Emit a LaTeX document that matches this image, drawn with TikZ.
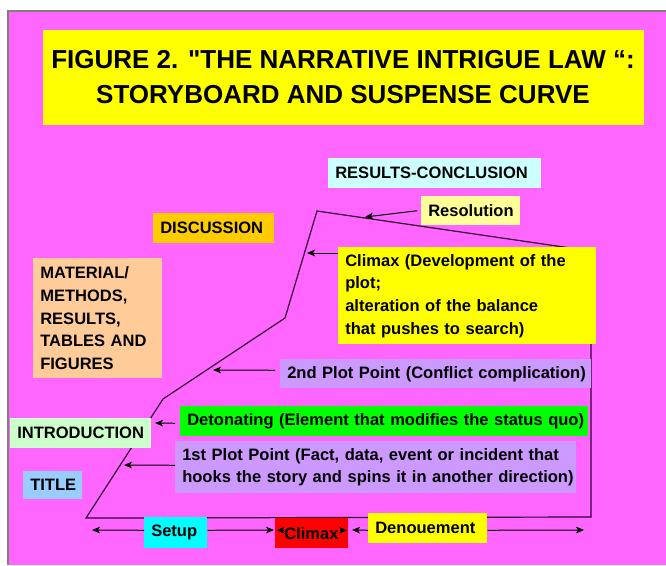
\documentclass[tikz,border=0pt]{standalone}
\usepackage{fontspec}
\setmainfont{Liberation Sans}
\newfontfamily\titlefont{Liberation Sans}
\usetikzlibrary{arrows.meta}
\definecolor{bgmag}{HTML}{FF66FF}
\definecolor{titley}{HTML}{FFFF00}
\definecolor{rescol}{HTML}{CCFFFF}
\definecolor{resolcol}{HTML}{FFFF99}
\definecolor{lavcol}{HTML}{CC99FF}
\definecolor{disccol}{HTML}{FFCC00}
\definecolor{matcol}{HTML}{FFCC99}
\definecolor{introcol}{HTML}{CCFFCC}
\definecolor{titlecol}{HTML}{99CCFF}
\definecolor{detcol}{HTML}{00FF00}
\definecolor{setupcol}{HTML}{00FFFF}
\definecolor{redcol}{HTML}{FF0000}
\definecolor{curvecol}{HTML}{330033}
\definecolor{frcol}{HTML}{808080}
\begin{document}
\begin{tikzpicture}[x=0.75pt,y=-0.75pt,
  lbl/.style={font=\fontsize{12.4}{17}\selectfont\bfseries, anchor=north west,
    inner xsep=5.25pt, inner ysep=1pt, align=left},
  curve/.style={draw=curvecol, line width=0.9pt, line join=miter},
  arr/.style={draw=black, line width=0.75pt, -{Stealth[length=6pt,width=5pt,inset=1.5pt]}},
]
\useasboundingbox (0,0) rectangle (666,565);
\fill[white] (0,0) rectangle (666,565);
\fill[bgmag] (8,11) rectangle (666,565);
\draw[frcol, line width=0.8pt] (8,565) -- (8,11) -- (666,11);

% title
\node[fill=titley, minimum width=450.75pt, minimum height=71.25pt, inner sep=0pt,
  align=center, font=\titlefont\fontsize{19.5}{26.25}\selectfont\bfseries] (title) at (343,77.5)
  {FIGURE 2. "THE NARRATIVE INTRIGUE LAW “:\\STORYBOARD AND SUSPENSE CURVE};

% suspense curve
\draw[curve] (86,518) -- (163,399) -- (285,318) -- (317,211) -- (591,251) -- (591,517) -- cycle;

% labels
\node[lbl, fill=rescol, text width=149.25pt, minimum height=22.5pt] (rc) at (328,158) {\mbox{RESULTS-CONCLUSION}};
\node[lbl, fill=resolcol, text width=63.75pt, minimum height=21.75pt] (res) at (421,196) {\mbox{Resolution}};
\node[lbl, fill=titley, text width=183pt, minimum height=72.75pt] (clx) at (338,247)
  {\mbox{Climax (Development of the}\\plot;\\\mbox{alteration of the balance}\\\mbox{that pushes to search)}};
\node[lbl, fill=lavcol, text width=222.75pt, minimum height=21.75pt] (pp2) at (280,359) {\mbox{2nd Plot Point (Conflict complication)}};
\node[lbl, fill=disccol, text width=80.25pt, minimum height=22.5pt] (disc) at (153,213) {\mbox{DISCUSSION}};
\node[lbl, fill=matcol, text width=86.25pt, minimum height=90pt] (mat) at (33,258)
  {MATERIAL/\\METHODS,\\RESULTS,\\\mbox{TABLES AND}\\FIGURES};
\node[lbl, fill=introcol, text width=95.25pt, minimum height=22.5pt] (intro) at (10,418) {\mbox{INTRODUCTION}};
\node[lbl, fill=titlecol, text width=33.75pt, minimum height=21pt] (ttl) at (23,471) {\mbox{TITLE}};
\node[lbl, fill=detcol, text width=295.5pt, minimum height=22.5pt] (det) at (180,406) {\mbox{Detonating (Element that modifies the status quo)}};
\node[lbl, fill=lavcol, text width=290.25pt, minimum height=39pt] (pp1) at (175,441)
  {\mbox{1st Plot Point (Fact, data, event or incident that}\\\mbox{hooks the story and spins it in another direction)}};
\node[lbl, fill=setupcol, text width=36.75pt, minimum height=23.25pt] (setup) at (144,517) {\mbox{Setup}};
\node[lbl, fill=redcol, text width=44.25pt, minimum height=22.5pt, inner xsep=5.25pt] (cr) at (275,518) {\hspace*{1.5pt}\mbox{Climax}};
\node[lbl, fill=titley, text width=78.75pt, minimum height=22.5pt] (den) at (368,513) {\mbox{Denouement}};

% arrow targets
\coordinate (tRes) at (365,217);
\coordinate (tClx) at (307,253);
\coordinate (tPP2) at (213,370);
\coordinate (tDet) at (155,423);
\coordinate (tPP1) at (124,465);
\coordinate (tSetL) at (92,530);
\coordinate (tSetR) at (274,530);
\coordinate (tDenL) at (352,530);
\coordinate (tDenR) at (584,530);

% arrows
\draw[arr] ([xshift=-3pt]res.west) -- (tRes);
\draw[arr] ([yshift=-4.5pt]clx.north west) -- (tClx);
\draw[arr] ([shift={(-5,-3.5)}]pp2.west) -- (tPP2);
\draw[arr] ([shift={(-5,2)}]det.west) -- (tDet);
\draw[arr] ([shift={(0,-2)}]pp1.west) -- (tPP1);
\draw[arr] ([shift={(0,-2.5)}]setup.west) -- (tSetL);
\draw[arr] ([shift={(0,-2.5)}]setup.east) -- (tSetR);
\draw[arr] ([shift={(9,-3)}]cr.west) -- ([shift={(1.5,-3)}]cr.west);
\draw[arr] ([shift={(-9,-3)}]cr.east) -- ([shift={(-1.5,-3)}]cr.east);
\draw[arr] ([shift={(0,2)}]den.west) -- (tDenL);
\draw[arr] ([shift={(0,2)}]den.east) -- (tDenR);
\end{tikzpicture}
\end{document}
